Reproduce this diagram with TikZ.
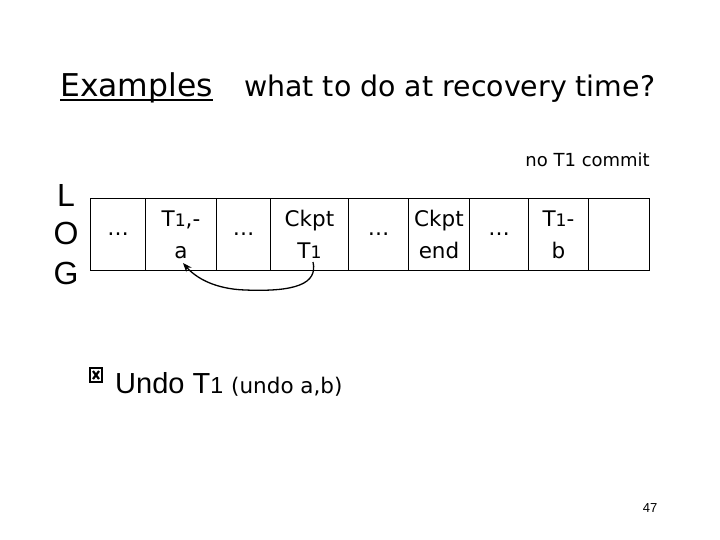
\documentclass[tikz,border=0pt]{standalone}
\usepackage{fontspec}
\setmainfont{DejaVu Sans}
\newfontfamily\arialf{Liberation Sans}
\usetikzlibrary{arrows.meta}
\newcommand{\subone}{\scalebox{0.8}{1}}
\tikzset{
  cell/.style={draw, line width=1pt, minimum height=72pt, inner sep=0pt, anchor=north west, align=center, font=\fontsize{21.5}{32}\selectfont},
  logl/.style={font=\arialf\fontsize{32}{36}\selectfont, inner sep=0pt},
}
\begin{document}
\begin{tikzpicture}[x=1pt,y=-1pt]
\useasboundingbox (0,0) rectangle (720,540);
% titles
\node[anchor=base west, inner sep=0pt, font=\fontsize{31.4}{36}\selectfont] (ex) at (60,97) {Examples};
\draw[line width=2pt] (ex.south west |- 0,100) -- (ex.south east |- 0,100);
\node[anchor=base west, inner sep=0pt, font=\fontsize{28.4}{32}\selectfont] (q) at (244,97) {what to do at recovery time?};
\node[anchor=base east, inner sep=0pt, font=\fontsize{18}{20}\selectfont] (nc) at (650,167) {no T1 commit};
% LOG
\node[logl] (l) at (66,195) {L};
\node[logl] (o) at (66,233) {O};
\node[logl] (g) at (66,273) {G};
% cells
\node[cell, minimum width=55pt] (c1) at (90,198) {…};
\node[cell, minimum width=71pt] (c2) at (145,198) {T\subone,-\\a};
\node[cell, minimum width=54pt] (c3) at (216,198) {…};
\node[cell, minimum width=78pt] (c4) at (270,198) {Ckpt\\T\subone};
\node[cell, minimum width=60pt] (c5) at (348,198) {…};
\node[cell, minimum width=61pt] (c6) at (408,198) {Ckpt\\end};
\node[cell, minimum width=59pt] (c7) at (469,198) {…};
\node[cell, minimum width=60pt] (c8) at (528,198) {T\subone-\\b};
\node[cell, minimum width=61pt] (c9) at (588,198) {};
% arrow
\coordinate (s) at (313,262);
\coordinate (t) at (183,263);
\draw[line width=1.3pt, -{Stealth[length=9pt,width=7pt]}] (s) .. controls (318,284) and (295,292) .. (245,290) .. controls (215,289) and (196,278) .. (t);
% undo line: checkbox bullet
\draw[line width=2pt] (90,368) rectangle (102,382);
\draw[line width=2.2pt] (93,371) -- (99,379) (99,371) -- (93,379);
\node[anchor=base west, inner sep=0pt, font=\arialf\fontsize{29}{32}\selectfont] (u) at (115,393) {Undo T\subone};
\node[anchor=base west, inner sep=0pt, font=\fontsize{21.5}{24}\selectfont] (ub) at (231,393) {(undo a,b)};
\node[anchor=base, inner sep=0pt, font=\arialf\fontsize{13}{16}\selectfont] (pg) at (650,512) {47};
\end{tikzpicture}
\end{document}
